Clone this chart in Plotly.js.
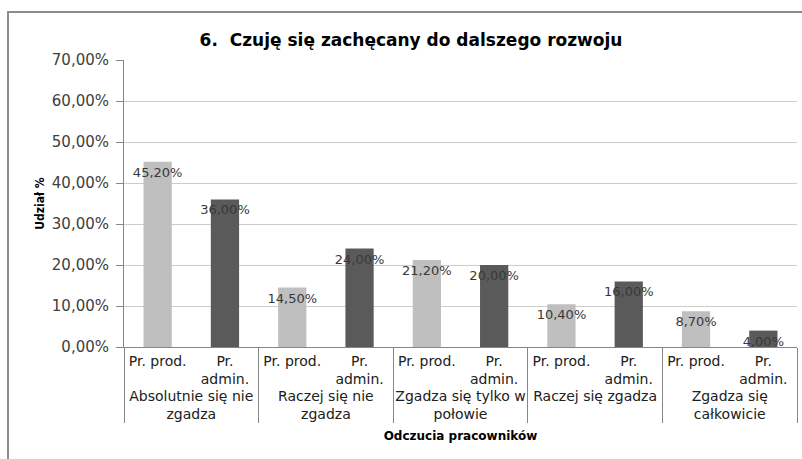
<!DOCTYPE html>
<html>
<head>
<meta charset="utf-8">
<script src="https://cdn.plot.ly/plotly-3.0.1.min.js"></script>
<style>
  html, body { margin: 0; background: #fff; overflow: hidden; }
  #wrap { position: relative; width: 802px; height: 459px; overflow: hidden; }
  #myDiv { width: 802px; height: 459px; }
  #frame { position: absolute; left: 7px; top: 11px; width: 800px; height: 460px;
           border-left: 2px solid #8c8c8c; border-top: 2px solid #8c8c8c; pointer-events: none; }
</style>
</head>
<body>
<div id="wrap">
  <div id="myDiv"></div>
  <div id="frame"></div>
</div>
<script>
  // odpowiedzi (grupy) i typ pracownika
  var groups = ['Absolutnie się nie<br>zgadza', 'Raczej się nie<br>zgadza', 'Zgadza się tylko w<br>połowie', 'Raczej się zgadza', 'Zgadza się<br>całkowicie'];
  var prodLabel = 'Pr. prod.';
  var adminLabel = 'Pr.<br>admin.';
  var prodValues = [45.2, 14.5, 21.2, 10.4, 8.7];
  var adminValues = [36.0, 24.0, 20.0, 16.0, 4.0];

  function fmt(v) {
    return v.toFixed(2).replace('.', ',') + '%';
  }

  var labelFont = { family: 'DejaVu Sans', size: 13, color: '#383838' };

  var trace1 = {
    x: [groups, groups.map(function () { return prodLabel; })],
    y: prodValues,
    type: 'bar',
    name: 'Pr. prod.',
    marker: { color: '#bfbfbf' },
    text: prodValues.map(fmt),
    textposition: 'inside',
    insidetextanchor: 'end',
    constraintext: 'none',
    textangle: 0,
    insidetextfont: labelFont,
    hoverinfo: 'y'
  };

  var trace2 = {
    x: [groups, groups.map(function () { return adminLabel; })],
    y: adminValues,
    type: 'bar',
    name: 'Pr. admin.',
    marker: { color: '#5a5a5a' },
    text: adminValues.map(fmt),
    textposition: 'inside',
    insidetextanchor: 'end',
    constraintext: 'none',
    textangle: 0,
    insidetextfont: labelFont,
    hoverinfo: 'y'
  };

  var data = [trace1, trace2];

  var layout = {
    width: 802,
    height: 459,
    margin: { l: 124, r: 5, t: 60, b: 112 },
    paper_bgcolor: '#ffffff',
    plot_bgcolor: '#ffffff',
    separators: ', ',
    showlegend: false,
    barmode: 'overlay',
    bargap: 0.58,
    title: {
      text: '6.  Czuję się zachęcany do dalszego rozwoju',
      font: { family: 'DejaVu Sans', size: 17, weight: 'bold', color: '#000000' },
      x: 0.5125,
      xref: 'container',
      y: 0.925,
      yref: 'container'
    },
    xaxis: {
      type: 'multicategory',
      showline: true,
      linecolor: '#868686',
      ticks: '',
      ticklabelstandoff: 1,
      showdividers: true,
      dividercolor: '#868686',
      dividerwidth: 1,
      tickfont: { family: 'DejaVu Sans', size: 14, color: '#202020' },
      automargin: false,
      title: {
        text: 'Odczucia pracowników',
        font: { family: 'DejaVu Sans', size: 12, weight: 'bold', color: '#000000' },
        standoff: 10
      }
    },
    yaxis: {
      range: [0, 70],
      dtick: 10,
      tickformat: '.2f',
      ticksuffix: '%',
      showline: true,
      linecolor: '#868686',
      ticks: 'outside',
      ticklen: 7,
      tickcolor: '#868686',
      ticklabelstandoff: 4,
      gridcolor: '#cccccc',
      zeroline: false,
      tickfont: { family: 'DejaVu Sans', size: 15, color: '#404040' },
      automargin: false,
      title: {
        text: 'Udział %',
        font: { family: 'Liberation Sans Narrow, DejaVu Sans Condensed', size: 12, weight: 'bold', color: '#000000' },
        standoff: 4
      }
    }
  };

  Plotly.newPlot('myDiv', data, layout, { displayModeBar: false });
</script>
</body>
</html>
